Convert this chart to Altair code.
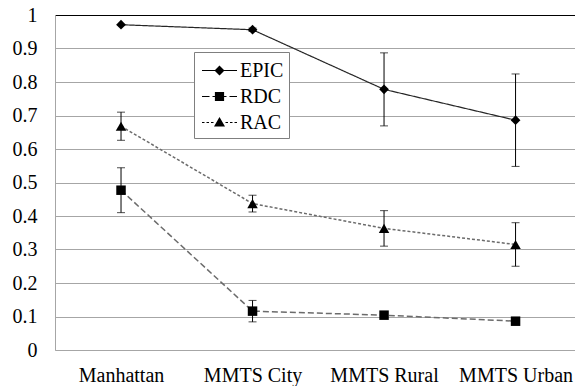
import altair as alt
import pandas as pd

# Detection accuracy per study area, with error half-widths
categories = ["Manhattan", "MMTS City", "MMTS Rural", "MMTS Urban"]
series_names = ["EPIC", "RDC", "RAC"]
epic_mean = [0.971, 0.956, 0.778, 0.686]
epic_err = [0.0, 0.005, 0.109, 0.138]
rdc_mean = [0.477, 0.116, 0.104, 0.086]
rdc_err = [0.067, 0.032, 0.004, 0.004]
rac_mean = [0.668, 0.437, 0.363, 0.315]
rac_err = [0.042, 0.025, 0.053, 0.065]
y_ticks = [i / 10 for i in range(11)]

means = {"EPIC": epic_mean, "RDC": rdc_mean, "RAC": rac_mean}
errs = {"EPIC": epic_err, "RDC": rdc_err, "RAC": rac_err}

rows = []
for s in series_names:
    for i, c in enumerate(categories):
        m, e = means[s][i], errs[s][i]
        rows.append({"series": s, "pos": i, "category": c,
                     "mean": m, "lo": m - e, "hi": m + e})
df = pd.DataFrame(rows)

# per-series drawing style
styles = {
    "EPIC": {"dash": [1, 0], "color": "#262626", "width": 1.2, "shape": "diamond", "size": 95},
    "RDC": {"dash": [6, 3], "color": "#6b6b6b", "width": 1.5, "shape": "square", "size": 90},
    "RAC": {"dash": [3, 2], "color": "#6b6b6b", "width": 1.5, "shape": "triangle-up", "size": 110},
}

# Legend glyphs are custom symbol paths; Vega scales their unit to
# sqrt(symbol size) / 2, so glyph geometry is given in px and divided by R.
LEGEND_SYMBOL_SIZE = 729
R = LEGEND_SYMBOL_SIZE ** 0.5 / 2
HALF = 17.5  # half length of the line sample, px


def u(v):
    return round(v / R, 4)


def seg(a, b, t=0.5):
    # thin filled bar from a to b (px) along the symbol's x axis
    return f"M{u(a)},{u(-t)}L{u(b)},{u(-t)}L{u(b)},{u(t)}L{u(a)},{u(t)}Z"


def poly(points):
    return "M" + "L".join(f"{u(x)},{u(y)}" for x, y in points) + "Z"


legend_paths = [
    seg(-HALF, HALF) + poly([(0, -5), (5, 0), (0, 5), (-5, 0)]),
    seg(-HALF, -10) + seg(-7, -3) + seg(3, 7) + seg(10, HALF)
    + poly([(-4.6, -4.6), (4.6, -4.6), (4.6, 4.6), (-4.6, 4.6)]),
    seg(-HALF, -15) + seg(-13, -10.5) + seg(-8.5, -6) + seg(6, 8.5)
    + seg(10.5, 13) + seg(15, HALF)
    + poly([(0, -5.5), (5.5, 4), (-5.5, 4)]),
]

SERIF = "Liberation Serif"
label_js = "[" + ",".join("'" + c + "'" for c in categories) + "][datum.value]"

x_enc = alt.X(
    "pos:Q",
    scale=alt.Scale(domain=[-0.502, 3.452], nice=False, zero=False),
    axis=alt.Axis(values=list(range(len(categories))), labelExpr=label_js,
                  grid=False, ticks=False, domainColor="#a6a6a6",
                  labelFont=SERIF, labelFontSize=20, labelColor="black",
                  labelPadding=15, labelOverlap=False, title=None),
)
y_scale = alt.Scale(domain=[0, 1], nice=False)
y_axis = alt.Axis(values=y_ticks, format="~g", grid=True,
                  gridColor={"condition": {"test": "datum.value === 1", "value": "black"},
                             "value": "#a6a6a6"},
                  domainColor="#a6a6a6", ticks=False, labelOverlap=False,
                  labelFont=SERIF, labelFontSize=20, labelColor="black",
                  labelPadding=18, title=None)


def y_of(field):
    return alt.Y(field, scale=y_scale, axis=y_axis)


base = alt.Chart(df)
layers = []
for s in series_names:
    st = styles[s]
    sub = base.transform_filter(alt.datum.series == s)
    layers.append(sub.mark_line(color=st["color"], strokeWidth=st["width"],
                                strokeDash=st["dash"]).encode(
        x=x_enc, y=y_of("mean:Q")))
for s in series_names:
    sub = base.transform_filter(alt.datum.series == s)
    layers.append(sub.mark_rule(color="black", strokeWidth=1).encode(
        x=x_enc, y=y_of("lo:Q"), y2="hi:Q"))
    layers.append(sub.transform_fold(["lo", "hi"]).mark_tick(
        color="black", orient="horizontal", size=8, thickness=1).encode(
        x=x_enc, y=y_of("value:Q")))
for s in series_names:
    st = styles[s]
    sub = base.transform_filter(alt.datum.series == s)
    layers.append(sub.mark_point(filled=True, color="black", opacity=1,
                                 shape=st["shape"], size=st["size"]).encode(
        x=x_enc, y=y_of("mean:Q")))

# legend-only layer: its points fall outside the clipped y range
legend_df = pd.DataFrame({"series": series_names})
legend_layer = alt.Chart(legend_df).mark_point(
    filled=True, clip=True, color="black"
).encode(
    x=alt.datum(0),
    y=alt.datum(-1, scale=y_scale, axis=y_axis),
    shape=alt.Shape(
        "series:N",
        scale=alt.Scale(domain=series_names, range=legend_paths),
        legend=alt.Legend(
            title=None, orient="none", legendX=139, legendY=37, padding=5,
            strokeColor="#7f7f7f", fillColor="white",
            labelFont=SERIF, labelFontSize=20, labelColor="black",
            labelOffset=7, symbolOffset=7, symbolSize=LEGEND_SYMBOL_SIZE,
            symbolStrokeWidth=0, rowPadding=2, symbolOpacity=1,
        ),
    ),
)
layers.append(legend_layer)

chart = alt.layer(*layers).properties(
    width=520, height=335,
    autosize=alt.AutoSizeParams(type="none"),
    padding={"left": 55, "top": 15, "right": 0, "bottom": 36},
    background="white",
).configure_view(strokeWidth=0)

chart.save("out.html", embed_options={"renderer": "svg", "actions": False})
